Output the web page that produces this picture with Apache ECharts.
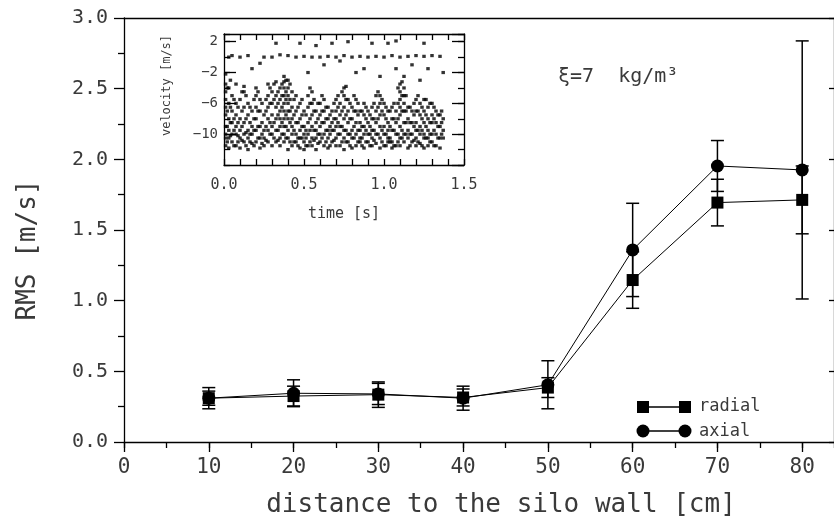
<!DOCTYPE html>
<html><head><meta charset="utf-8">
<script src="https://cdn.jsdelivr.net/npm/echarts@6/dist/echarts.min.js"></script>
<style>html,body{margin:0;padding:0;background:#fff}#c{width:834px;height:517px}</style>
</head><body><div id="c"></div><script>
// main chart data
const distance = [10, 20, 30, 40, 50, 60, 70, 80];
const radial = [0.31, 0.325, 0.335, 0.315, 0.385, 1.146, 1.694, 1.713];
const radialErr = [0.05, 0.07, 0.09, 0.06, 0.07, 0.20, 0.165, 0.24];
const axial = [0.31, 0.345, 0.34, 0.31, 0.405, 1.359, 1.953, 1.925];
const axialErr = [0.075, 0.095, 0.075, 0.085, 0.17, 0.33, 0.18, 0.913];
const xTicks = [0, 10, 20, 30, 40, 50, 60, 70, 80];
const yTicks = ['0.0', '0.5', '1.0', '1.5', '2.0', '2.5', '3.0'];

// inset data: time columns and the velocities read in each column
const insetTime = [0.01,0.03,0.05,0.075,0.10,0.125,0.15,0.175,0.20,0.225,0.25,0.275,0.30,0.325,0.35,0.375,0.40,0.425,0.45,0.475,0.50,0.525,0.55,0.575,0.60,0.625,0.65,0.675,0.70,0.725,0.75,0.775,0.80,0.825,0.85,0.875,0.90,0.925,0.95,0.975,1.00,1.025,1.05,1.075,1.10,1.125,1.15,1.175,1.20,1.225,1.25,1.275,1.30,1.325,1.35,1.37];
const insetVel = [
 [-2.2,-3.5,-4.5,-5.5,-6.5,-7.5,-9,-10,-10.5,-11.5],
 [0,-4,-6,-8,-9.5,-10.5,-11.8],
 [0.2,-5,-7,-8.5,-10,-11],
 [-3.5,-6,-7.5,-9,-10,-11.5],
 [0,-5.5,-8,-9.5,-10.5,-11.8],
 [-3.8,-4.5,-6.5,-8.5,-10,-11],
 [0.2,-6,-7.5,-9.5,-10.5,-12],
 [-1.5,-7,-9,-10,-11.2],
 [-4,-5,-6.5,-8,-9.5,-11],
 [-0.8,-5.5,-7,-9,-10.5,-11.8],
 [0,-7.5,-9.5,-10.5,-11.5],
 [-3.5,-5,-6.5,-8,-9.5,-11],
 [0,-4.5,-6,-7.5,-9,-10,-11.5],
 [1.8,-3.2,-5,-6.5,-8,-9.5,-11],
 [0.3,-4,-5.5,-7,-8,-9,-10.5,-11.5],
 [-2.5,-3.2,-4,-5,-6,-7,-8,-9,-10,-11],
 [0.2,-3,-4,-5,-6,-7,-8,-9.5,-10.5,-12],
 [-4.5,-6.5,-8,-9,-10,-11.5],
 [0,-5,-7,-8.5,-10,-11],
 [1.8,-6,-8,-9.5,-10.5,-11.8],
 [0.1,-7,-9,-10,-11,-12],
 [-2,-5,-6.5,-8.5,-10,-11.5],
 [0,-4.5,-6,-7.5,-9,-10.5,-11.5],
 [1.5,-7,-8.5,-9.5,-10.5,-12],
 [0,-6,-7.5,-9,-10,-11],
 [-1,-5.5,-7,-8.5,-10,-11.5],
 [0.1,-6.5,-8,-9.5,-10.5,-11.8],
 [1.8,-7,-8.5,-9.5,-11],
 [0,-5.5,-7,-8,-9,-10.5,-11.5],
 [-0.5,-6,-7.5,-9,-10,-11.5],
 [0.2,-4,-5,-6.5,-8,-9.5,-10.5,-12],
 [2,-5.5,-7,-8.5,-10,-11],
 [0,-6.5,-8,-9.5,-10.5,-11.8],
 [-2,-5.5,-7,-8.5,-10,-11.5],
 [0.1,-7,-8.5,-9.5,-10.5,-11],
 [-1.5,-6,-7.5,-9,-10,-11.8],
 [0,-7,-8.5,-10,-11],
 [1.8,-6.5,-8,-9.5,-10.5,-11.5],
 [0.1,-5,-7,-8.5,-10,-11.2],
 [-2.5,-5,-6,-7.5,-9,-10.5,-11.8],
 [0,-6,-7.5,-9,-10,-11.5],
 [1.8,-7,-8.5,-9.5,-10.5,-11],
 [0.2,-6.5,-8,-9.5,-11,-11.8],
 [2.1,-1.5,-7,-8.5,-10,-11.5],
 [0,-3.5,-4.5,-5.5,-6.5,-7.5,-9,-10.5,-11.5],
 [-2.5,-4,-5,-6,-7,-8.5,-10,-11],
 [0.1,-6.5,-8,-9.5,-10.5,-11.8],
 [-1,-7,-8.5,-10,-11],
 [0.2,-5.5,-7,-8.5,-9.5,-10.5,-11.5],
 [-3,-6,-7.5,-9,-10,-11.2],
 [1.8,0.1,-5.5,-7,-8.5,-10,-10.5,-11.8],
 [-1.5,-6.5,-8,-9.5,-10.5,-11.5],
 [0.2,-6,-7.5,-8.5,-10,-11],
 [-7,-8.5,-10,-11.5],
 [0.1,-7.5,-9,-10.5,-11.8],
 [-2,-8,-9.5,-10.5]
];
// second set of columns between the first ones (dense band)
const insetTime2 = [0.02,0.04,0.0625,0.0875,0.1125,0.1375,0.1625,0.1875,0.2125,0.2375,0.2625,0.2875,0.3125,0.3375,0.3625,0.3875,0.4125,0.4375,0.4625,0.4875,0.5125,0.5375,0.5625,0.5875,0.6125,0.6375,0.6625,0.6875,0.7125,0.7375,0.7625,0.7875,0.8125,0.8375,0.8625,0.8875,0.9125,0.9375,0.9625,0.9875,1.0125,1.0375,1.0625,1.0875,1.1125,1.1375,1.1625,1.1875,1.2125,1.2375,1.2625,1.2875,1.3125,1.3375,1.36];
const insetVel2 = [
 [-4,-7,-9,-11],[-3,-6.5,-8.5,-10.2],[-5.5,-8,-9.5,-11.5],[-6.5,-8.5,-10.2,-11],
 [-4.5,-7,-9,-10.8],[-5,-8,-9.8,-11.5],[-6.5,-8.5,-10,-11],[-5.5,-8,-9.5,-11.5],
 [-4.5,-7,-9,-10.5],[-6,-8.5,-10,-11.2],[-5.5,-7,-9,-10.8],[-4,-6,-8.5,-10],
 [-3.5,-5.5,-8.5,-10.5],[-4.5,-6,-7.5,-9.5,-10.8],[-3.5,-5,-6.5,-8.5,-10],[-3,-4.5,-5.5,-7.5,-9,-10.5],
 [-3.5,-5.5,-7,-8.5,-11],[-5.5,-7.5,-9.5,-11],[-6.5,-8.5,-10.5,-11.5],[-5.5,-7.5,-9,-10.5],
 [-7.5,-9.5,-10.5,-11.5],[-4,-6,-8,-9.5,-11],[-5.5,-7,-9.5,-10.8],[-6,-8,-10,-11.2],
 [-5,-7,-8.5,-10.5],[-6.5,-8,-9.5,-11],[-7.5,-9,-10,-11.5],[-6,-8,-9.5,-10.8],
 [-5,-6.5,-8.5,-10],[-4.5,-7,-9,-11],[-3.8,-5.5,-7.5,-9.5,-11],[-6,-8,-10,-11.5],
 [-5,-7,-9,-10.5],[-6,-7.5,-9.5,-11],[-7,-9,-10.5,-11.5],[-6.5,-8,-9.5,-11],
 [-7.5,-9,-10,-11.5],[-6,-8,-9.5,-10.8],[-4.5,-6.5,-8,-10],[-5.5,-7,-9.5,-11],
 [-6.5,-8,-10,-11.5],[-7,-9,-10.5,-11],[-6,-8,-9.5,-11.5],[-4,-6,-8,-10,-11],
 [-3.2,-5,-7,-9.5,-10.5],[-5,-7,-8.5,-10],[-6.5,-8.5,-10,-11.5],[-6,-7.5,-9,-10.8],
 [-5,-7,-9.5,-11],[-6.5,-8,-9.5,-11.5],[-5.5,-7.5,-9,-10.5],[-6,-8.5,-10,-11],
 [-6.5,-8,-9.5,-11.5],[-7.5,-9,-10.5],[-7,-8.5,-10]
];

const insetPoints = [];
insetTime.forEach((t, i) => insetVel[i].forEach(v => insetPoints.push([t, v])));
insetTime2.forEach((t, i) => insetVel2[i].forEach(v => insetPoints.push([t, v])));

const FONT = 'DejaVu Sans Mono';
const TXT = '#3a3a3a';
const K = '#000';

const errData = [];
distance.forEach((d, i) => {
  errData.push([d, radial[i] - radialErr[i], radial[i] + radialErr[i]]);
  errData.push([d, axial[i] - axialErr[i], axial[i] + axialErr[i]]);
});

const chart = echarts.init(document.getElementById('c'), null, {renderer: 'canvas'});
const tickStyle = {color: K, width: 1.3};
chart.setOption({
  animation: false,
  backgroundColor: '#fff',
  grid: [
    {left: 124, top: 18, width: 710, height: 424, outerBoundsMode: 'none', containLabel: false},
    {left: 224, top: 34, width: 240, height: 131, outerBoundsMode: 'none', containLabel: false}
  ],
  xAxis: [
    { // main bottom, labelled
      type: 'value', gridIndex: 0, min: 0, max: 83.75, interval: 10, position: 'bottom',
      axisLine: {onZero: false, lineStyle: {color: K, width: 1.3}},
      axisTick: {inside: false, length: 10, lineStyle: tickStyle},
      axisLabel: {showMaxLabel: false, margin: 15, fontFamily: FONT, fontSize: 21, color: TXT,
        formatter: v => xTicks.includes(v) ? String(v) : ''},
      splitLine: {show: false},
      name: 'distance to the silo wall [cm]', nameLocation: 'middle', nameGap: 50,
      nameTextStyle: {fontFamily: FONT, fontSize: 26, color: TXT, padding: [0, 0, 0, 44]}
    },
    { // main bottom minor ticks
      type: 'value', gridIndex: 0, min: 0, max: 83.75, interval: 5, position: 'bottom',
      axisLine: {show: false, onZero: false},
      axisTick: {inside: false, length: 6, lineStyle: tickStyle},
      axisLabel: {show: false}, splitLine: {show: false}
    },
    { // main top frame
      type: 'value', gridIndex: 0, min: 0, max: 83.75, position: 'top',
      axisLine: {onZero: false, lineStyle: {color: K, width: 1.3}},
      axisTick: {show: false}, axisLabel: {show: false}, splitLine: {show: false}
    },
    { // inset bottom
      type: 'value', gridIndex: 1, min: 0, max: 1.5, interval: 0.1, position: 'bottom',
      axisLine: {onZero: false, lineStyle: {color: K, width: 1.3}},
      axisTick: {inside: true, length: 6, lineStyle: tickStyle},
      axisLabel: {margin: 13, fontFamily: FONT, fontSize: 15, color: TXT,
        formatter: v => { const k = Math.round(v * 10); return k % 5 === 0 ? (k / 10).toFixed(1) : ''; }},
      splitLine: {show: false},
      name: 'time [s]', nameLocation: 'middle', nameGap: 42,
      nameTextStyle: {fontFamily: FONT, fontSize: 15, color: TXT}
    },
    { // inset top
      type: 'value', gridIndex: 1, min: 0, max: 1.5, interval: 0.1, position: 'top',
      axisLine: {onZero: false, lineStyle: {color: K, width: 1.3}},
      axisTick: {inside: true, length: 6, lineStyle: tickStyle},
      axisLabel: {show: false}, splitLine: {show: false}
    }
  ],
  yAxis: [
    { // main left
      type: 'value', gridIndex: 0, min: 0, max: 3, interval: 0.5, position: 'left',
      axisLine: {onZero: false, lineStyle: {color: K, width: 1.3}},
      axisTick: {inside: false, length: 10, lineStyle: tickStyle},
      minorTick: {show: true, splitNumber: 2, length: 6, lineStyle: tickStyle},
      axisLabel: {margin: 16, fontFamily: FONT, fontSize: 20, color: TXT,
        formatter: v => yTicks[Math.round(v * 2)]},
      splitLine: {show: false},
      name: 'RMS [m/s]', nameLocation: 'middle', nameRotate: 90, nameGap: 83,
      nameTextStyle: {fontFamily: FONT, fontSize: 26, color: TXT, padding: [0, 40, 0, 0]}
    },
    { // main right ticks
      type: 'value', gridIndex: 0, min: 0, max: 3, interval: 0.5, position: 'right',
      axisLine: {onZero: false, lineStyle: {color: K, width: 1.3}},
      axisTick: {inside: true, length: 5, lineStyle: tickStyle},
      axisLabel: {show: false}, splitLine: {show: false}
    },
    { // inset left major
      type: 'value', gridIndex: 1, min: -14, max: 3, interval: 4, position: 'left',
      axisLine: {onZero: false, lineStyle: {color: K, width: 1.3}},
      axisTick: {inside: true, length: 12, lineStyle: tickStyle},
      axisLabel: {showMinLabel: false, showMaxLabel: false, margin: 6, fontFamily: FONT, fontSize: 14, color: TXT,
        formatter: v => String(v).replace('-', '\u2212')},
      splitLine: {show: false},
      name: 'velocity [m/s]', nameLocation: 'middle', nameRotate: 90, nameGap: 51,
      nameTextStyle: {fontFamily: FONT, fontSize: 12, color: TXT, padding: [0, 0, 0, 28]}
    },
    { // inset left minor
      type: 'value', gridIndex: 1, min: -14, max: 3, interval: 2, position: 'left',
      axisLine: {show: false, onZero: false},
      axisTick: {inside: true, length: 6, lineStyle: tickStyle},
      axisLabel: {show: false}, splitLine: {show: false}
    },
    { // inset right major
      type: 'value', gridIndex: 1, min: -14, max: 3, interval: 4, position: 'right',
      axisLine: {onZero: false, lineStyle: {color: K, width: 1.3}},
      axisTick: {inside: true, length: 12, lineStyle: tickStyle},
      axisLabel: {show: false}, splitLine: {show: false}
    },
    { // inset right minor
      type: 'value', gridIndex: 1, min: -14, max: 3, interval: 2, position: 'right',
      axisLine: {show: false, onZero: false},
      axisTick: {inside: true, length: 6, lineStyle: tickStyle},
      axisLabel: {show: false}, splitLine: {show: false}
    }
  ],
  series: [
    {
      name: 'error', type: 'custom', xAxisIndex: 0, yAxisIndex: 0, data: errData, z: 3,
      renderItem: (params, api) => {
        const x = api.value(0);
        const lo = api.coord([x, api.value(1)]);
        const hi = api.coord([x, api.value(2)]);
        const hw = 6.5;
        const st = {stroke: K, lineWidth: 1.5};
        return {type: 'group', children: [
          {type: 'line', shape: {x1: lo[0], y1: lo[1], x2: hi[0], y2: hi[1]}, style: st},
          {type: 'line', shape: {x1: lo[0] - hw, y1: lo[1], x2: lo[0] + hw, y2: lo[1]}, style: st},
          {type: 'line', shape: {x1: hi[0] - hw, y1: hi[1], x2: hi[0] + hw, y2: hi[1]}, style: st}
        ]};
      }
    },
    {
      name: 'radial', type: 'line', xAxisIndex: 0, yAxisIndex: 0, z: 4,
      data: distance.map((d, i) => [d, radial[i]]),
      symbol: 'rect', symbolSize: 12,
      lineStyle: {color: K, width: 1}, itemStyle: {color: K}
    },
    {
      name: 'axial', type: 'line', xAxisIndex: 0, yAxisIndex: 0, z: 4,
      data: distance.map((d, i) => [d, axial[i]]),
      symbol: 'circle', symbolSize: 13,
      lineStyle: {color: K, width: 1}, itemStyle: {color: K}
    },
    {
      name: 'velocity', type: 'scatter', xAxisIndex: 3, yAxisIndex: 2,
      data: insetPoints, symbol: 'rect', symbolSize: [3.5, 3.2],
      itemStyle: {color: K}
    }
  ],
  graphic: [
    {type: 'line', shape: {x1: 643, y1: 407, x2: 685, y2: 407}, style: {stroke: K, lineWidth: 1.5}},
    {type: 'rect', shape: {x: 637, y: 401, width: 12, height: 12}, style: {fill: K}},
    {type: 'rect', shape: {x: 679, y: 401, width: 12, height: 12}, style: {fill: K}},
    {type: 'text', x: 699, y: 407, style: {text: 'radial', fontFamily: FONT, fontSize: 17, fill: TXT, verticalAlign: 'middle'}},
    {type: 'line', shape: {x1: 643, y1: 431, x2: 685, y2: 431}, style: {stroke: K, lineWidth: 1.5}},
    {type: 'circle', shape: {cx: 643, cy: 431, r: 6.5}, style: {fill: K}},
    {type: 'circle', shape: {cx: 685, cy: 431, r: 6.5}, style: {fill: K}},
    {type: 'text', x: 699, y: 432, style: {text: 'axial', fontFamily: FONT, fontSize: 17, fill: TXT, verticalAlign: 'middle'}},
    {type: 'text', x: 558, y: 77, style: {text: '\u03BE=7  kg/m\u00B3', fontFamily: FONT, fontSize: 20, fill: TXT, verticalAlign: 'middle'}}
  ]
});
</script></body></html>
